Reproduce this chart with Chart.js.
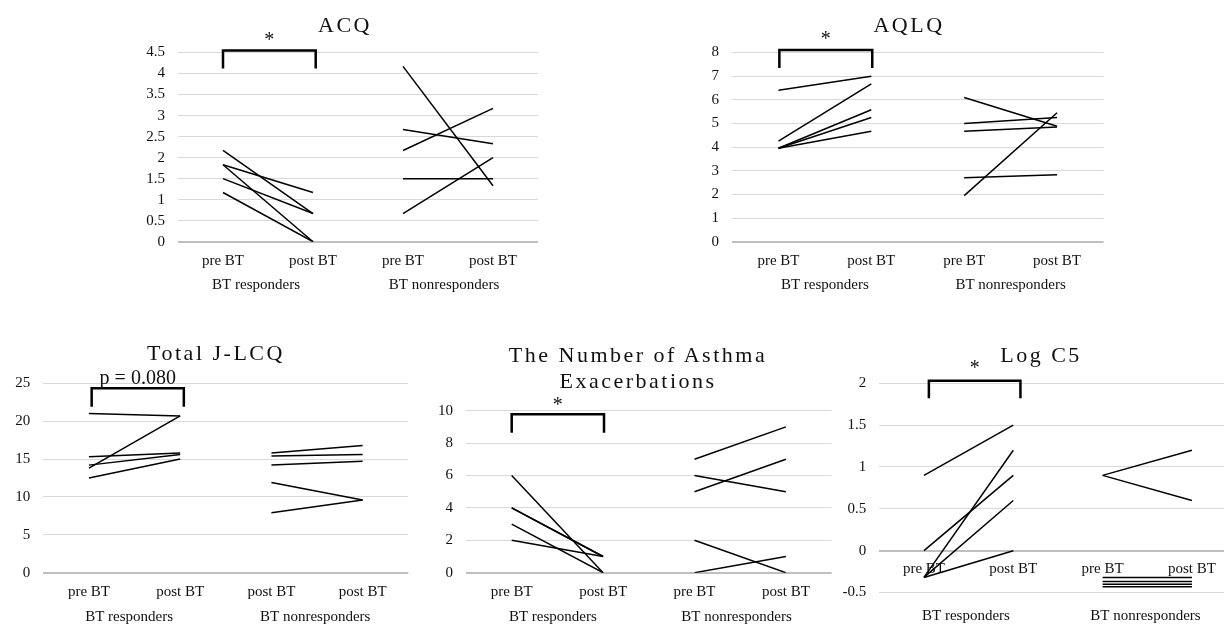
<!DOCTYPE html>
<html>
<head>
<meta charset="utf-8">
<script src="https://cdn.jsdelivr.net/npm/chart.js@4.4.1/dist/chart.umd.min.js"></script>
<style>
  html, body { margin:0; padding:0; background:#fff; }
  body { width:1224px; height:626px; overflow:hidden; position:relative; }
  .panel { position:absolute; }
  .title { position:absolute; font-family:'Liberation Serif','Times New Roman',serif; font-size:22px;
           letter-spacing:2.5px; color:#111; text-align:center; line-height:26.6px; white-space:nowrap;
           transform:translateX(-50%); }
</style>
</head>
<body>
<div class="panel" style="left:130px;top:20px;width:420px;height:280px"><canvas id="cAcq"></canvas></div>
<div class="panel" style="left:690px;top:20px;width:430px;height:280px"><canvas id="cAqlq"></canvas></div>
<div class="panel" style="left:0px;top:350px;width:412px;height:276px"><canvas id="cLcq"></canvas></div>
<div class="panel" style="left:415px;top:350px;width:420px;height:276px"><canvas id="cExa"></canvas></div>
<div class="panel" style="left:830px;top:350px;width:420px;height:276px"><canvas id="cC5"></canvas></div>

<div class="title" style="left:345px;top:11.7px">ACQ</div>
<div class="title" style="left:909px;top:11.7px">AQLQ</div>
<div class="title" style="left:216px;top:340px">Total J-LCQ</div>
<div class="title" style="left:638px;top:341.7px">The Number of Asthma<br>Exacerbations</div>
<div class="title" style="left:1041px;top:342px">Log C5</div>

<script>
// ---------- data ----------
const categories = ['pre BT', 'post BT', 'pre BT', 'post BT'];
const lcqCategories = ['pre BT', 'post BT', 'post BT', 'post BT'];
const groups = ['BT responders', 'BT nonresponders'];

// each pair = [pre BT, post BT]
const acqResponders    = [[2.17, 0.67], [1.83, 1.17], [1.83, 0], [1.5, 0.67], [1.17, 0]];
const acqNonresponders = [[4.17, 1.33], [2.67, 2.33], [2.17, 3.17], [1.5, 1.5], [0.67, 2.0]];

const aqlqResponders    = [[6.4, 7.0], [4.25, 6.67], [3.95, 5.58], [3.95, 5.25], [3.95, 4.67]];
const aqlqNonresponders = [[6.1, 4.88], [5.0, 5.25], [4.67, 4.85], [2.7, 2.83], [1.95, 5.45]];

const lcqResponders    = [[21.0, 20.7], [13.8, 20.7], [15.3, 15.8], [14.2, 15.6], [12.5, 15.0]];
const lcqNonresponders = [[15.8, 16.8], [15.4, 15.6], [14.2, 14.7], [11.9, 9.6], [7.9, 9.6]];

const exaResponders    = [[6, 0], [4, 1], [4, 1], [3, 0], [2, 1]];
const exaNonresponders = [[7, 9], [6, 5], [5, 7], [2, 0], [0, 1]];

const c5Responders    = [[0.9, 1.5], [0, 0.9], [-0.32, 1.2], [-0.32, 0.6], [-0.32, 0]];
const c5Nonresponders = [[0.9, 1.2], [0.9, 0.6], [-0.32, -0.32], [-0.37, -0.37], [-0.40, -0.40], [-0.43, -0.43]];

const acqTicks  = { min: 0, max: 4.5, step: 0.5 };
const aqlqTicks = { min: 0, max: 8, step: 1 };
const lcqTicks  = { min: 0, max: 25, step: 5 };
const exaTicks  = { min: 0, max: 10, step: 2 };
const c5Ticks   = { min: -0.5, max: 2, step: 0.5 };

// ---------- styling / helpers ----------
const FONT = "'Liberation Serif','Times New Roman',serif";
Chart.defaults.font.family = FONT;
Chart.defaults.font.size = 15;
Chart.defaults.color = '#111';

function makeSets(resp, non) {
  const base = { borderColor: '#000', borderWidth: 1.5, pointRadius: 0, pointHoverRadius: 0,
                 tension: 0, fill: false, xAxisID: 'x', yAxisID: 'y' };
  return resp.map(p => Object.assign({ data: [p[0], p[1], null, null] }, base))
    .concat(non.map(p => Object.assign({ data: [null, null, p[0], p[1]] }, base)));
}

const annotate = {
  id: 'annotate',
  afterDatasetsDraw(chart, args, o) {
    const { ctx } = chart;
    const x = chart.scales.x, y = chart.scales.y;
    const x0 = x.getPixelForValue(o.from), x1 = x.getPixelForValue(o.to);
    const yt = y.getPixelForValue(o.top), yb = y.getPixelForValue(o.bottom);
    ctx.save();
    ctx.strokeStyle = '#000';
    ctx.lineWidth = 2.5;
    ctx.lineJoin = 'miter';
    ctx.beginPath();
    ctx.moveTo(x0, yb); ctx.lineTo(x0, yt); ctx.lineTo(x1, yt); ctx.lineTo(x1, yb);
    ctx.stroke();
    ctx.fillStyle = '#111';
    ctx.font = o.fontSize + 'px ' + FONT;
    ctx.textAlign = 'center';
    ctx.textBaseline = 'middle';
    ctx.fillText(o.text, (x0 + x1) / 2, yt - o.gap);
    ctx.restore();
  }
};

function makeChart(id, labels, resp, non, t, L) {
  const yGrid = {
    drawTicks: false,
    color: c => (c.tick && c.tick.value === 0) ? '#bfbfbf' : '#d9d9d9',
    lineWidth: c => (c.tick && c.tick.value === 0) ? 2 : 1
  };
  const xScale = {
    type: 'category', labels: labels, offset: true,
    grid: { display: false, drawTicks: false }, border: { display: false },
    ticks: { padding: L.p1, maxRotation: 0, autoSkip: false },
    afterFit: s => { s.height = L.h1; }
  };
  xScale.position = L.centerAxis ? { y: 0 } : 'bottom';
  const cfg = {
    type: 'line',
    data: { labels: labels, datasets: makeSets(resp, non) },
    options: {
      responsive: true, maintainAspectRatio: false, animation: false,
      layout: { padding: { top: L.padTop, right: L.padRight, left: 0, bottom: 0 } },
      plugins: { legend: { display: false }, tooltip: { enabled: false }, title: { display: false },
                 annotate: L.ann },
      scales: {
        x: xScale,
        xg: {
          type: 'linear', position: 'bottom', min: -0.5, max: 3.5,
          grid: { display: false, drawTicks: false }, border: { display: false },
          afterBuildTicks: s => { s.ticks = [{ value: L.groupAt[0] }, { value: L.groupAt[1] }]; },
          ticks: { padding: L.p2, maxRotation: 0, autoSkip: false,
                   callback: v => (v < 1.5 ? groups[0] : groups[1]) },
          afterFit: s => { s.height = L.h2; }
        },
        y: {
          min: t.min, max: t.max,
          grid: yGrid, border: { display: false },
          ticks: { stepSize: t.step, padding: 13, autoSkip: false, callback: v => String(v) },
          afterFit: s => { s.width = L.yW; s.paddingTop = 0; s.paddingBottom = 0; }
        }
      }
    },
    plugins: [annotate]
  };
  return new Chart(document.getElementById(id), cfg);
}

makeChart('cAcq', categories, acqResponders, acqNonresponders, acqTicks, {
  yW: 48, padTop: 32.5, padRight: 12, h1: 30, h2: 28.3, p1: 10.3, p2: 4.3, groupAt: [0.367, 2.456],
  ann: { from: 0, to: 1.03, top: 4.55, bottom: 4.12, text: '*', fontSize: 20, gap: 10 }
});
makeChart('cAqlq', categories, aqlqResponders, aqlqNonresponders, aqlqTicks, {
  yW: 42, padTop: 32.5, padRight: 16.5, h1: 30, h2: 28.3, p1: 10.3, p2: 4.3, groupAt: [0.5, 2.5],
  ann: { from: 0.01, to: 1.01, top: 8.11, bottom: 7.34, text: '*', fontSize: 20, gap: 10 }
});
makeChart('cLcq', lcqCategories, lcqResponders, lcqNonresponders, lcqTicks, {
  yW: 43.3, padTop: 33.3, padRight: 3.7, h1: 30, h2: 23.3, p1: 10, p2: 5, groupAt: [0.44, 2.48],
  ann: { from: 0.03, to: 1.04, top: 24.34, bottom: 21.9, text: 'p = 0.080', fontSize: 20, gap: 10 }
});
makeChart('cExa', categories, exaResponders, exaNonresponders, exaTicks, {
  yW: 51, padTop: 60.7, padRight: 3.4, h1: 30, h2: 23.3, p1: 10, p2: 5, groupAt: [0.45, 2.46],
  ann: { from: 0, to: 1.01, top: 9.78, bottom: 8.64, text: '*', fontSize: 20, gap: 9 }
});
makeChart('cC5', categories, c5Responders, c5Nonresponders, c5Ticks, {
  yW: 49.3, padTop: 33.3, padRight: 13.4, h1: 30, h2: 33.5, p1: 9.3, p2: 14.5, centerAxis: true, groupAt: [0.47, 2.48],
  ann: { from: 0.055, to: 1.08, top: 2.03, bottom: 1.82, text: '*', fontSize: 20, gap: 12 }
});
</script>
</body>
</html>
